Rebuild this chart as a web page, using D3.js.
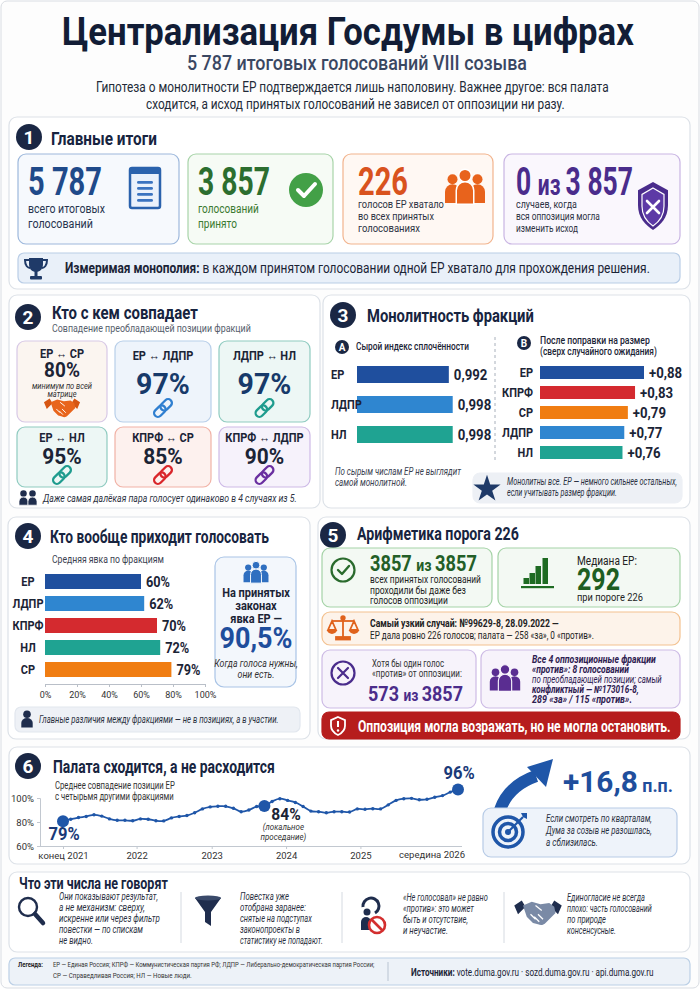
<!DOCTYPE html>
<html>
<head>
<meta charset="utf-8">
<script src="https://cdn.jsdelivr.net/npm/d3@7"></script>
<style>
  body { margin: 0; background: #fff; }
  svg { display: block; }
</style>
</head>
<body>
<svg id="chart" width="700" height="989"></svg>
<script>
// ---- данные ----
const pairLabels = ["ЕР ↔ СР", "ЕР ↔ ЛДПР", "ЛДПР ↔ НЛ", "ЕР ↔ НЛ", "КПРФ ↔ СР", "КПРФ ↔ ЛДПР"];
const pairValues = [80, 97, 97, 95, 85, 90];

const rawParties = ["ЕР", "ЛДПР", "НЛ"];
const rawIndex = [0.992, 0.998, 0.998];

const adjParties = ["ЕР", "КПРФ", "СР", "ЛДПР", "НЛ"];
const adjIndex = [0.88, 0.83, 0.79, 0.77, 0.76];

const turnoutParties = ["ЕР", "ЛДПР", "КПРФ", "НЛ", "СР"];
const turnoutValues = [60, 62, 70, 72, 79];
const turnoutTicks = [0, 20, 40, 60, 80, 100];

// среднее совпадение позиции ЕР, по периодам
const trendValues = [80.6, 82.3, 83.7, 84.6, 86.0, 84.9, 82.6, 81.4, 81.4, 81.1, 82.6, 82.3, 81.1,
  80.9, 83.4, 84.6, 85.4, 87.7, 90.9, 92.6, 93.1, 93.1, 91.4, 88.6, 90.0, 92.9, 93.4, 97.1, 99.4,
  98.0, 96.3, 92.9, 89.1, 88.6, 87.7, 88.6, 88.6, 88.3, 90.9, 90.6, 91.1, 90.9, 94.3, 98.0, 99.4,
  99.7, 98.6, 98.9, 100.6, 102.0, 104.9, 107.1];
const trendTickPos = [0, 9.5, 19.2, 28.8, 38.4];
const trendTickLabels = ["конец 2021", "2022", "2023", "2024", "2025"];
const trendYTicks = [60, 80, 100];
const trendMarks = [0, 26, 51];
const trendMarkLabels = ["79%", "84%", "96%"];

const partyColor = { "ЕР": "#1f4f9e", "ЛДПР": "#2f86d0", "НЛ": "#1fa392", "КПРФ": "#d42a2f", "СР": "#f07d12" };

// ---- помощники ----
const FONT = "Roboto, 'Noto Sans', sans-serif";
const NAVY = "#172440";
const svg = d3.select("#chart");

// текст; w — ширина из образца, под неё текст сжимается по горизонтали
function T(g, x, y, parts, o = {}) {
  const t = g.append("text")
    .attr("font-family", FONT)
    .attr("font-size", o.size || 12)
    .attr("font-weight", o.weight || 400)
    .attr("fill", o.fill || "#1b2436")
    .attr("text-anchor", o.anchor || "start");
  if (o.italic) t.attr("font-style", "italic");
  if (typeof parts === "string") parts = [{ s: parts }];
  parts.forEach(p => {
    const ts = t.append("tspan").text(p.s);
    if (p.size) ts.attr("font-size", p.size);
    if (p.weight) ts.attr("font-weight", p.weight);
    if (p.fill) ts.attr("fill", p.fill);
  });
  let sx = o.sx || 0.88;
  if (o.w) {
    const len = t.node().getComputedTextLength();
    if (len > 0) sx = o.w / len;
  }
  t.attr("transform", `translate(${x},${y}) scale(${sx},1)`);
  return t;
}

function box(g, x, y, w, h, fill, stroke, rx = 8) {
  return g.append("rect").attr("x", x).attr("y", y).attr("width", w).attr("height", h)
    .attr("rx", rx).attr("fill", fill).attr("stroke", stroke).attr("stroke-width", 1.2);
}

function badge(g, cx, cy, n) {
  g.append("circle").attr("cx", cx).attr("cy", cy).attr("r", 13).attr("fill", "#1a2744");
  T(g, cx, cy + 6.5, String(n), { size: 19, weight: 700, fill: "#fff", anchor: "middle", sx: 1 });
}

function band(domain, first, step, bw) {
  const p = (step - bw) / step;
  const r0 = first - (step - bw) / 2;
  return d3.scaleBand().domain(domain).range([r0, r0 + step * domain.length])
    .paddingInner(p).paddingOuter(p / 2);
}

function people3(g, cx, cy, color, s, outline = "#fff") {
  const p = g.append("g").attr("transform", `translate(${cx},${cy}) scale(${s})`).attr("fill", color);
  [-1, 1].forEach(k => {
    p.append("circle").attr("cx", k * 10).attr("cy", -7).attr("r", 4);
    p.append("path").attr("d", `M${k * 10 - 6},12 V3 a6,6 0 0 1 12,0 V12 Z`);
  });
  p.append("circle").attr("cx", 0).attr("cy", -10).attr("r", 5).attr("stroke", outline).attr("stroke-width", 1.2);
  p.append("path").attr("d", "M-7,13 V2 a7,7 0 0 1 14,0 V13 Z").attr("stroke", outline).attr("stroke-width", 1.2);
}

function people2(g, cx, cy, color, s) {
  const p = g.append("g").attr("transform", `translate(${cx},${cy}) scale(${s})`).attr("fill", color);
  [-5, 5].forEach(dx => {
    p.append("circle").attr("cx", dx).attr("cy", -5).attr("r", 3.6);
    p.append("path").attr("d", `M${dx - 5},8 V4 a5,5 0 0 1 10,0 V8 Z`).attr("stroke", "#fff").attr("stroke-width", 0.8);
  });
}

function person(g, cx, cy, color, s) {
  const p = g.append("g").attr("transform", `translate(${cx},${cy}) scale(${s})`).attr("fill", color);
  p.append("circle").attr("cx", 0).attr("cy", -5).attr("r", 4);
  p.append("path").attr("d", "M-6,9 V4 a6,5 0 0 1 12,0 V9 Z");
}

function link(g, cx, cy, color) {
  const p = g.append("g").attr("transform", `translate(${cx},${cy}) rotate(-45)`)
    .attr("fill", "none").attr("stroke", color).attr("stroke-width", 2.3);
  p.append("rect").attr("x", -11).attr("y", -3.8).attr("width", 13).attr("height", 7.6).attr("rx", 3.8);
  p.append("rect").attr("x", -2).attr("y", -3.8).attr("width", 13).attr("height", 7.6).attr("rx", 3.8);
}

function handshake(g, cx, cy, color, s, dark) {
  const p = g.append("g").attr("transform", `translate(${cx},${cy}) scale(${s})`);
  p.append("path").attr("fill", dark || color)
    .attr("d", "M-19,-6 L-13,-10 L-10,-5 L-16,1 Z M19,-6 L13,-10 L10,-5 L16,1 Z");
  p.append("path").attr("fill", color)
    .attr("d", "M-12,-6 L-5,-9 L2,-7 L9,-8 L13,-5 L14,0 L6,8 C4,10 2,10 0,9 L-4,8 L-9,3 Z");
  p.append("path").attr("fill", "none").attr("stroke", "#fff").attr("stroke-width", 1)
    .attr("d", "M-2,-6 L3,-2 M0,1 L4,5 M-3,3 L1,7 M-6,1 L-2,5");
}

function shieldPath(w, h) {
  return `M0,${-h / 2} L${w / 2},${-h / 2 + h * 0.17} L${w / 2},${-h * 0.02} C${w / 2},${h * 0.25} ${w * 0.25},${h * 0.4} 0,${h / 2}` +
    ` C${-w * 0.25},${h * 0.4} ${-w / 2},${h * 0.25} ${-w / 2},${-h * 0.02} L${-w / 2},${-h / 2 + h * 0.17} Z`;
}

// ---- фон и шапка ----
svg.append("rect").attr("x", 1).attr("y", 1).attr("width", 698).attr("height", 987).attr("rx", 6)
  .attr("fill", "#fdfdfd").attr("stroke", "#d9dde3");

T(svg, 62, 45, "Централизация Госдумы в цифрах", { size: 38, weight: 700, fill: "#121d36", w: 572 });
T(svg, 187, 70, "5 787 итоговых голосований VIII созыва", { size: 21, weight: 500, fill: "#3a4762", w: 340 });
T(svg, 96, 92, "Гипотеза о монолитности ЕР подтверждается лишь наполовину. Важнее другое: вся палата",
  { size: 14, fill: "#222a38", w: 513 });
T(svg, 146, 109, "сходится, а исход принятых голосований не зависел от оппозиции ни разу.",
  { size: 14, fill: "#222a38", w: 419 });

// ---- 1. Главные итоги ----
const s1 = svg.append("g");
box(s1, 9, 117, 681, 172, "#fff", "#dde2e8");
badge(s1, 29, 137, 1);
T(s1, 51, 145, "Главные итоги", { size: 18, weight: 700, fill: NAVY, w: 106 });

box(s1, 18, 154, 161, 90, "#f6f9fd", "#9db8dc");
box(s1, 188, 154, 145, 90, "#f6fbf5", "#a8d4a9");
box(s1, 343, 154, 150, 90, "#fff8f3", "#f2b48e");
box(s1, 504, 154, 176, 90, "#faf7fd", "#c9b5e3");

T(s1, 28, 195, "5 787", { size: 38, weight: 700, fill: "#1f4a8a", w: 74 });
T(s1, 28, 213, "всего итоговых", { size: 13, fill: "#27344f", w: 77 });
T(s1, 28, 228, "голосований", { size: 13, fill: "#27344f", w: 65 });
// документ
(function () {
  const x = 130, y = 168;
  s1.append("rect").attr("x", x).attr("y", y).attr("width", 30).attr("height", 40).attr("rx", 2)
    .attr("fill", "#eaf1fb").attr("stroke", "#2a62ad").attr("stroke-width", 2.5);
  s1.append("rect").attr("x", x).attr("y", y).attr("width", 30).attr("height", 6).attr("fill", "#2a62ad");
  [13, 19, 25, 31].forEach(d => s1.append("rect").attr("x", x + 7).attr("y", y + d)
    .attr("width", 16).attr("height", 2.8).attr("rx", 1.4).attr("fill", "#3a73c0"));
})();

T(s1, 198, 195, "3 857", { size: 38, weight: 700, fill: "#2c6e2f", w: 72 });
T(s1, 198, 213, "голосований", { size: 13, fill: "#3b7a30", w: 61 });
T(s1, 198, 228, "принято", { size: 13, fill: "#3b7a30", w: 39 });
s1.append("circle").attr("cx", 306).attr("cy", 190).attr("r", 17).attr("fill", "#43a047");
s1.append("path").attr("d", "M298,190 L304,196 L315,184").attr("fill", "none")
  .attr("stroke", "#fff").attr("stroke-width", 4).attr("stroke-linecap", "round").attr("stroke-linejoin", "round");

T(s1, 358, 195, "226", { size: 38, weight: 700, fill: "#d9531e", w: 50 });
T(s1, 358, 208, "голосов ЕР хватало", { size: 11.5, fill: "#2b3142", w: 86 });
T(s1, 358, 220, "во всех принятых", { size: 11.5, fill: "#2b3142", w: 76 });
T(s1, 358, 232, "голосованиях", { size: 11.5, fill: "#2b3142", w: 62 });
people3(s1, 465, 188, "#e8631c", 1.25);

T(s1, 516, 195, [{ s: "0 " }, { s: "из ", size: 30 }, { s: "3 857" }], { size: 38, weight: 700, fill: "#4a2c8c", w: 117 });
T(s1, 516, 208, "случаев, когда", { size: 11.5, fill: "#2b3142", w: 61 });
T(s1, 516, 220, "вся оппозиция могла", { size: 11.5, fill: "#2b3142", w: 84 });
T(s1, 516, 232, "изменить исход", { size: 11.5, fill: "#2b3142", w: 62 });
s1.append("path").attr("transform", "translate(653,206)").attr("d", shieldPath(30, 48)).attr("fill", "#4a2c8c");
s1.append("path").attr("transform", "translate(653,207)").attr("d", shieldPath(22, 38))
  .attr("fill", "#5d3aa6").attr("stroke", "#fff").attr("stroke-width", 1.2);
s1.append("path").attr("d", "M647,201 L659,213 M659,201 L647,213").attr("stroke", "#fff")
  .attr("stroke-width", 2.6).attr("stroke-linecap", "round");

box(s1, 18, 253, 662, 30, "#e9f0f9", "#b9cde6", 6);
// кубок
(function () {
  const p = s1.append("g").attr("transform", "translate(36,267)").attr("fill", "#1f3a68");
  p.append("path").attr("d", "M-7,-9 H7 V-3 C7,3 3,5 0,5 C-3,5 -7,3 -7,-3 Z");
  p.append("path").attr("d", "M-7,-7 H-11 C-11,-1 -8,1 -6,1 M7,-7 H11 C11,-1 8,1 6,1")
    .attr("fill", "none").attr("stroke", "#1f3a68").attr("stroke-width", 2);
  p.append("rect").attr("x", -1.5).attr("y", 5).attr("width", 3).attr("height", 4);
  p.append("rect").attr("x", -6).attr("y", 9).attr("width", 12).attr("height", 3.5).attr("rx", 1);
})();
T(s1, 65, 273, [{ s: "Измеримая монополия:", weight: 700 }, { s: " в каждом принятом голосовании одной ЕР хватало для прохождения решения." }],
  { size: 14.5, fill: "#1b2436", w: 585 });

// ---- 2. Кто с кем совпадает ----
const s2 = svg.append("g");
box(s2, 9, 295, 311, 213, "#fff", "#dde2e8");
badge(s2, 28, 317, 2);
T(s2, 52, 319, "Кто с кем совпадает", { size: 19, weight: 700, fill: NAVY, w: 146 });
T(s2, 52, 332, "Совпадение преобладающей позиции фракций", { size: 10.5, fill: "#565e6c", w: 199 });

const tileBox = [[17, 341, 90, 81], [115, 341, 96, 81], [219, 341, 91, 81],
  [17, 427, 90, 60], [115, 427, 96, 60], [219, 427, 91, 60]];
const tileFill = ["#fbf5f0", "#eef4fb", "#edf7f5", "#edf7f5", "#fdf1ee", "#f6f2fb"];
const tileStroke = ["#d8c9e6", "#b8cfe9", "#8fcbc0", "#8fcbc0", "#f1b2a6", "#cdb9e6"];
const tileIcon = ["#e8651c", "#2f7fd0", "#1f9c8e", "#1f9c8e", "#d9262b", "#6a2fa0"];

pairLabels.forEach((lab, i) => {
  const [x, y, w, h] = tileBox[i];
  const cx = x + w / 2;
  box(s2, x, y, w, h, tileFill[i], tileStroke[i], 8);
  if (i === 0) {
    T(s2, cx, y + 17, lab, { size: 12.5, weight: 700, anchor: "middle", fill: "#1b2436" });
    T(s2, cx, y + 36, pairValues[i] + "%", { size: 20, weight: 700, anchor: "middle", fill: "#1b2436", sx: 0.95 });
    T(s2, cx, y + 48, "минимум по всей", { size: 8.5, italic: true, anchor: "middle", fill: "#333" });
    T(s2, cx, y + 56, "матрице", { size: 8.5, italic: true, anchor: "middle", fill: "#333" });
    handshake(s2, cx, y + 67, tileIcon[i], 0.95, "#d65613");
  } else if (i < 3) {
    T(s2, cx, y + 19, lab, { size: 12.5, weight: 700, anchor: "middle", fill: "#1b2436" });
    T(s2, cx, y + 53, pairValues[i] + "%", { size: 30, weight: 700, anchor: "middle", fill: "#173a6a", sx: 0.95 });
    link(s2, cx, y + 67, tileIcon[i]);
  } else {
    T(s2, cx, y + 15, lab, { size: 12.5, weight: 700, anchor: "middle", fill: "#1b2436" });
    T(s2, cx, y + 37, pairValues[i] + "%", { size: 22, weight: 700, anchor: "middle", fill: "#1b2436", sx: 0.95 });
    link(s2, cx, y + 48, tileIcon[i]);
  }
});
people2(s2, 28, 498, "#1f2d4d", 0.9);
T(s2, 43, 502, "Даже самая далёкая пара голосует одинаково в 4 случаях из 5.", { size: 11.5, italic: true, fill: "#2b3142", w: 254 });

// ---- 3. Монолитность фракций ----
const s3 = svg.append("g");
box(s3, 323, 295, 367, 213, "#fff", "#dde2e8");
badge(s3, 343, 315, 3);
T(s3, 367, 322, "Монолитность фракций", { size: 19, weight: 700, fill: NAVY, w: 167 });

function letterBadge(g, cx, cy, l) {
  g.append("circle").attr("cx", cx).attr("cy", cy).attr("r", 7).attr("fill", "#1a2744");
  T(g, cx, cy + 3.5, l, { size: 10, weight: 700, fill: "#fff", anchor: "middle", sx: 1 });
}
letterBadge(s3, 342, 347, "A");
T(s3, 356, 350, "Сырой индекс сплочённости", { size: 11.5, weight: 500, fill: "#1b2436", w: 113 });
letterBadge(s3, 524, 343, "B");
T(s3, 540, 344, "После поправки на размер", { size: 11.5, weight: 500, fill: "#1b2436", w: 110 });
T(s3, 540, 355, "(сверх случайного ожидания)", { size: 11.5, weight: 500, fill: "#1b2436", w: 117 });

s3.append("line").attr("x1", 495).attr("x2", 495).attr("y1", 337).attr("y2", 462)
  .attr("stroke", "#a8b0bb").attr("stroke-dasharray", "3,3");

const rawY = band(rawParties, 366, 30, 17);
const rawX = d3.scaleLinear().domain([0.85, 1]).range([357, 454]);
s3.append("g").selectAll("rect").data(rawParties).join("rect")
  .attr("x", rawX(0.85)).attr("y", d => rawY(d)).attr("height", rawY.bandwidth())
  .attr("width", (d, i) => rawX(rawIndex[i]) - rawX(0.85)).attr("fill", d => partyColor[d]);
rawParties.forEach((d, i) => {
  const cy = rawY(d) + rawY.bandwidth() / 2;
  T(s3, 331, cy + 4.5, d, { size: 12.5, weight: 700 });
  T(s3, rawX(rawIndex[i]) + 5, cy + 5, d3.format(".3f")(rawIndex[i]).replace(".", ","), { size: 15, weight: 700 });
});

const adjY = band(adjParties, 366, 20, 13);
const adjX = d3.scaleLinear().domain([0.3, 0.88]).range([540, 644]);
s3.append("g").selectAll("rect").data(adjParties).join("rect")
  .attr("x", adjX(0.3)).attr("y", d => adjY(d)).attr("height", adjY.bandwidth())
  .attr("width", (d, i) => adjX(adjIndex[i]) - adjX(0.3)).attr("fill", d => partyColor[d]);
adjParties.forEach((d, i) => {
  const cy = adjY(d) + adjY.bandwidth() / 2;
  T(s3, 533, cy + 4.5, d, { size: 12.5, weight: 700, anchor: "end" });
  T(s3, adjX(adjIndex[i]) + 5, cy + 5, "+" + d3.format(".2f")(adjIndex[i]).replace(".", ","), { size: 15, weight: 700 });
});

T(s3, 335, 475, "По сырым числам ЕР не выглядит", { size: 10.5, italic: true, fill: "#3a4150", w: 126 });
T(s3, 335, 486, "самой монолитной.", { size: 10.5, italic: true, fill: "#3a4150", w: 72 });
box(s3, 473, 473, 209, 30, "#edf0f5", "#edf0f5", 7);
s3.append("path").attr("d", d3.symbol(d3.symbolStar, 230)()).attr("transform", "translate(487,489)").attr("fill", "#1f3a68");
T(s3, 507, 485, "Монолитны все. ЕР — немного сильнее остальных,", { size: 10, italic: true, fill: "#2b3142", w: 170 });
T(s3, 507, 496, "если учитывать размер фракции.", { size: 10, italic: true, fill: "#2b3142", w: 110 });

// ---- 4. Кто вообще приходит голосовать ----
const s4 = svg.append("g");
box(s4, 8, 517, 302, 222, "#fff", "#dde2e8");
badge(s4, 28, 536, 4);
T(s4, 50, 543, "Кто вообще приходит голосовать", { size: 19, weight: 700, fill: NAVY, w: 219 });
T(s4, 52, 563, "Средняя явка по фракциям", { size: 11.5, fill: "#3a4150", w: 112 });

const tY = band(turnoutParties, 574, 22, 15);
const tX = d3.scaleLinear().domain([0, 100]).range([45, 205]);
s4.append("g").selectAll("rect").data(turnoutParties).join("rect")
  .attr("x", tX(0)).attr("y", d => tY(d)).attr("height", tY.bandwidth())
  .attr("width", (d, i) => tX(turnoutValues[i]) - tX(0)).attr("fill", d => partyColor[d]);
turnoutParties.forEach((d, i) => {
  const cy = tY(d) + tY.bandwidth() / 2;
  T(s4, 28, cy + 4.5, d, { size: 12.5, weight: 700, anchor: "middle" });
  T(s4, tX(turnoutValues[i]) + 5, cy + 5, turnoutValues[i] + "%", { size: 14.5, weight: 700 });
});
const tAxis = s4.append("g").attr("transform", "translate(0,684)")
  .call(d3.axisBottom(tX).tickValues(turnoutTicks).tickFormat(d => d + "%").tickSize(3));
tAxis.select(".domain").attr("stroke", "#b9bfc8");
tAxis.selectAll(".tick line").attr("stroke", "#b9bfc8");
tAxis.selectAll("text").attr("font-family", FONT).attr("font-size", 9).attr("fill", "#333").attr("dy", "0.9em");

box(s4, 215, 557, 81, 130, "#f3f7fc", "#a9c4e6", 9);
people3(s4, 256, 573, "#2f6fc0", 0.78);
T(s4, 256, 597, "На принятых", { size: 12.5, weight: 700, anchor: "middle" });
T(s4, 256, 610, "законах", { size: 12.5, weight: 700, anchor: "middle" });
T(s4, 256, 623, "явка ЕР —", { size: 12.5, weight: 700, anchor: "middle" });
T(s4, 256, 648, "90,5%", { size: 30, weight: 700, anchor: "middle", fill: "#1f4e9c", sx: 0.9 });
T(s4, 256, 667, "Когда голоса нужны,", { size: 10, italic: true, anchor: "middle", fill: "#333" });
T(s4, 256, 678, "они есть.", { size: 10, italic: true, anchor: "middle", fill: "#333" });

box(s4, 15, 707, 285, 25, "#eef1f6", "#e2e7ee", 6);
person(s4, 27, 719, "#1f2d4d", 0.95);
T(s4, 39, 723, "Главные различия между фракциями — не в позициях, а в участии.", { size: 11, italic: true, fill: "#2b3142", w: 240 });

// ---- 5. Арифметика порога 226 ----
const s5 = svg.append("g");
box(s5, 318, 517, 372, 222, "#fff", "#dde2e8");
badge(s5, 333, 535, 5);
T(s5, 357, 540, "Арифметика порога 226", { size: 19, weight: 700, fill: NAVY, w: 162 });

box(s5, 322, 548, 170, 59, "#f3f9f3", "#a5d3a7", 8);
s5.append("circle").attr("cx", 343).attr("cy", 570).attr("r", 11.5).attr("fill", "none").attr("stroke", "#2a6b2d").attr("stroke-width", 2.2);
s5.append("path").attr("d", "M338,570 L342,574 L349,566").attr("fill", "none").attr("stroke", "#2a6b2d")
  .attr("stroke-width", 2.4).attr("stroke-linecap", "round").attr("stroke-linejoin", "round");
T(s5, 370, 571, [{ s: "3857 " }, { s: "из ", size: 17 }, { s: "3857" }], { size: 22, weight: 700, fill: "#235f27", w: 107 });
T(s5, 370, 583, "всех принятых голосований", { size: 11, fill: "#222", w: 111 });
T(s5, 370, 594, "проходили бы даже без", { size: 11, fill: "#222", w: 96 });
T(s5, 370, 604, "голосов оппозиции", { size: 11, fill: "#222", w: 78 });

box(s5, 498, 548, 182, 59, "#f3f9f3", "#a5d3a7", 8);
[[526, 578], [532, 573], [538, 566], [545, 558]].forEach(([x, y]) =>
  s5.append("rect").attr("x", x - 2.5).attr("y", y).attr("width", 5.5).attr("height", 584 - y).attr("fill", "#1e6b22"));
s5.append("rect").attr("x", 521).attr("y", 586).attr("width", 33).attr("height", 2.2).attr("fill", "#1e6b22");
T(s5, 577, 565, "Медиана ЕР:", { size: 13.5, fill: "#222", w: 60 });
T(s5, 577, 590, "292", { size: 32, weight: 700, fill: "#1e5e22", w: 43 });
T(s5, 577, 601, "при пороге 226", { size: 11, fill: "#222", w: 66 });

box(s5, 322, 612, 358, 33, "#fdf3ea", "#f3c18f", 8);
(function () {
  const p = s5.append("g").attr("transform", "translate(343,628)").attr("stroke", "#e0621c").attr("fill", "none").attr("stroke-width", 1.8);
  p.append("line").attr("x1", 0).attr("x2", 0).attr("y1", -10).attr("y2", 9);
  p.append("line").attr("x1", -11).attr("x2", 11).attr("y1", -7).attr("y2", -7);
  p.append("path").attr("d", "M-11,-7 L-15,2 H-7 Z M11,-7 L7,2 H15 Z");
  p.append("path").attr("d", "M-15,2 A4,3 0 0 0 -7,2 M7,2 A4,3 0 0 0 15,2").attr("fill", "#e0621c");
  p.append("rect").attr("x", -7).attr("y", 9).attr("width", 14).attr("height", 2.5).attr("fill", "#e0621c");
  p.append("circle").attr("cx", 0).attr("cy", -10).attr("r", 1.8).attr("fill", "#e0621c");
})();
T(s5, 370, 627, "Самый узкий случай: №99629-8, 28.09.2022 —", { size: 11.5, weight: 700, fill: "#222", w: 189 });
T(s5, 370, 639, "ЕР дала ровно 226 голосов; палата — 258 «за», 0 «против».", { size: 11, fill: "#222", w: 224 });

box(s5, 322, 650, 154, 58, "#f7f3fb", "#cdbbe5", 8);
s5.append("circle").attr("cx", 343).attr("cy", 673).attr("r", 11.5).attr("fill", "none").attr("stroke", "#4a2c8c").attr("stroke-width", 2.2);
s5.append("path").attr("d", "M338,668 L348,678 M348,668 L338,678").attr("stroke", "#4a2c8c")
  .attr("stroke-width", 2.2).attr("stroke-linecap", "round");
T(s5, 372, 667, "Хотя бы один голос", { size: 10.5, fill: "#333", w: 72 });
T(s5, 372, 677, "«против» от оппозиции:", { size: 10.5, fill: "#333", w: 90 });
T(s5, 368, 701, [{ s: "573 " }, { s: "из ", size: 16 }, { s: "3857" }], { size: 21, weight: 700, fill: "#4b2c8a", w: 95 });

box(s5, 481, 650, 199, 58, "#f7f3fb", "#cdbbe5", 8);
people3(s5, 505, 679, "#5a2d91", 0.95, "#f7f3fb");
T(s5, 532, 663, "Все 4 оппозиционные фракции", { size: 10, weight: 700, italic: true, fill: "#2e2050", w: 124 });
T(s5, 532, 673, "«против»: 8 голосований", { size: 10, weight: 700, italic: true, fill: "#2e2050", w: 97 });
T(s5, 532, 683, "по преобладающей позиции; самый", { size: 10, italic: true, fill: "#2e2050", w: 130 });
T(s5, 532, 693, "конфликтный — №173016-8,", { size: 10, weight: 700, italic: true, fill: "#2e2050", w: 107 });
T(s5, 532, 703, "289 «за» / 115 «против».", { size: 10, weight: 700, italic: true, fill: "#2e2050", w: 100 });

box(s5, 322, 712, 358, 27, "#b61d1d", "#b61d1d", 7);
s5.append("path").attr("transform", "translate(338,726)").attr("d", shieldPath(14, 18))
  .attr("fill", "none").attr("stroke", "#fff").attr("stroke-width", 1.8);
s5.append("line").attr("x1", 338).attr("x2", 338).attr("y1", 721).attr("y2", 727).attr("stroke", "#fff").attr("stroke-width", 2);
s5.append("circle").attr("cx", 338).attr("cy", 730.5).attr("r", 1.2).attr("fill", "#fff");
T(s5, 358, 732, "Оппозиция могла возражать, но не могла остановить.", { size: 16, weight: 700, fill: "#fff", w: 313 });

// ---- 6. Палата сходится ----
const s6 = svg.append("g");
box(s6, 9, 747, 681, 117, "#fff", "#dde2e8");
badge(s6, 28, 766, 6);
T(s6, 53, 773, "Палата сходится, а не расходится", { size: 19, weight: 700, fill: NAVY, w: 222 });
T(s6, 55, 789, "Среднее совпадение позиции ЕР", { size: 11, fill: "#333", w: 120 });
T(s6, 55, 800, "с четырьмя другими фракциями", { size: 11, fill: "#333", w: 119 });

const trX = d3.scaleLinear().domain([0, trendValues.length - 1]).range([63, 458]);
const trY = d3.scaleLinear().domain([60, 100]).range([846, 798]);
const yAx = s6.append("g").attr("transform", "translate(40,0)")
  .call(d3.axisLeft(trY).tickValues(trendYTicks).tickFormat(d => d + "%").tickSize(3));
yAx.select(".domain").attr("stroke", "#c2c8d0");
yAx.selectAll(".tick line").attr("stroke", "#c2c8d0");
yAx.selectAll("text").attr("font-family", FONT).attr("font-size", 9.5).attr("fill", "#333");
const xAx = s6.append("g").attr("transform", "translate(0,846)")
  .call(d3.axisBottom(trX).tickValues(trendTickPos).tickFormat((d, i) => trendTickLabels[i]).tickSize(3));
xAx.select(".domain").attr("stroke", "#c2c8d0").attr("d", "M40,0.5H462");
xAx.selectAll(".tick line").attr("stroke", "#c2c8d0");
xAx.selectAll("text").attr("font-family", FONT).attr("font-size", 9.5).attr("fill", "#333");
T(s6, 465, 858, "середина 2026", { size: 9.5, anchor: "end", fill: "#333", sx: 1 });

s6.append("path").datum(trendValues)
  .attr("d", d3.line().x((d, i) => trX(i)).y(d => trY(d)).curve(d3.curveCatmullRom))
  .attr("fill", "none").attr("stroke", "#1f56a8").attr("stroke-width", 1.8);
s6.append("g").selectAll("circle").data(trendValues).join("circle")
  .attr("cx", (d, i) => trX(i)).attr("cy", d => trY(d)).attr("r", 1.7).attr("fill", "#1f56a8");
s6.append("g").selectAll("circle").data(trendMarks).join("circle")
  .attr("cx", i => trX(i)).attr("cy", i => trY(trendValues[i])).attr("r", 6).attr("fill", "#1f56a8");
T(s6, trX(trendMarks[0]) + 1, 840, trendMarkLabels[0], { size: 18, weight: 700, fill: "#1a3a78", anchor: "middle", sx: 0.92 });
T(s6, trX(trendMarks[1]) + 7, 820, trendMarkLabels[1], { size: 17, weight: 700, fill: "#1b2436", sx: 0.92 });
T(s6, trX(trendMarks[1]) + 19, 830, "(локальное", { size: 9, italic: true, anchor: "middle", fill: "#333" });
T(s6, trX(trendMarks[1]) + 19, 840, "проседание)", { size: 9, italic: true, anchor: "middle", fill: "#333" });
T(s6, trX(trendMarks[2]) + 1, 779, trendMarkLabels[2], { size: 18, weight: 700, fill: "#1a3a78", anchor: "middle", sx: 0.92 });

// стрелка вверх
s6.append("path").attr("d", "M500,810 Q508,786 536,776").attr("fill", "none")
  .attr("stroke", "#1f56a8").attr("stroke-width", 12);
s6.append("path").attr("d", "M553,759 L527,767 L546,787 Z").attr("fill", "#1f56a8");
T(s6, 563, 792, [{ s: "+16,8" }, { s: " п.п.", size: 18 }], { size: 30, weight: 700, fill: "#1f4e9c", w: 110 });

box(s6, 483, 808, 194, 49, "#eef3fa", "#b7cbe6", 8);
(function () {
  const p = s6.append("g").attr("transform", "translate(508,832)");
  p.append("circle").attr("r", 15).attr("fill", "none").attr("stroke", "#1f56a8").attr("stroke-width", 3.5);
  p.append("circle").attr("r", 8.5).attr("fill", "none").attr("stroke", "#1f56a8").attr("stroke-width", 3.5);
  p.append("circle").attr("r", 3).attr("fill", "#1f56a8");
  p.append("line").attr("x1", 0).attr("y1", 0).attr("x2", 15).attr("y2", -15).attr("stroke", "#1f56a8").attr("stroke-width", 2.2);
  p.append("path").attr("d", "M13,-19 L19,-19 L19,-13 L15,-15 Z").attr("fill", "#1f56a8");
})();
T(s6, 546, 822, "Если смотреть по кварталам,", { size: 10.5, italic: true, fill: "#2b3142", w: 106 });
T(s6, 546, 834, "Дума за созыв не разошлась,", { size: 10.5, italic: true, fill: "#2b3142", w: 106 });
T(s6, 546, 846, "а сблизилась.", { size: 10.5, italic: true, fill: "#2b3142", w: 52 });

// ---- 7. Что эти числа не говорят ----
const s7 = svg.append("g");
box(s7, 9, 872, 681, 80, "#fff", "#dde2e8");
T(s7, 19, 889, "Что эти числа не говорят", { size: 17, weight: 700, fill: NAVY, w: 149 });
[181, 342, 504].forEach(x => s7.append("line").attr("x1", x).attr("x2", x).attr("y1", 892).attr("y2", 943).attr("stroke", "#d5dae1"));

const notes = [
  { x: 59, lines: ["Они показывают результат,", "а не механизм: сверху,", "искренне или через фильтр", "повестки — по спискам", "не видно."], w: [99, 86, 101, 84, 34] },
  { x: 240, lines: ["Повестка уже", "отобрана заранее:", "снятые на подступах", "законопроекты в", "статистику не попадают."], w: [49, 66, 72, 60, 83] },
  { x: 403, lines: ["«Не голосовал» не равно", "«против»: это может", "быть и отсутствие,", "и неучастие."], w: [85, 71, 65, 45] },
  { x: 567, lines: ["Единогласие не всегда", "плохо: часть голосований", "по природе", "консенсусные."], w: [78, 85, 39, 49] }
];
notes.forEach(n => {
  const y0 = n.lines.length === 5 ? 900 : 901;
  n.lines.forEach((l, j) => T(s7, n.x, y0 + j * 11, l, { size: 10, italic: true, fill: "#2b3142", w: n.w[j] }));
});
// лупа
s7.append("circle").attr("cx", 28).attr("cy", 907).attr("r", 9).attr("fill", "none").attr("stroke", "#1f2d4d").attr("stroke-width", 2.4);
s7.append("line").attr("x1", 35).attr("y1", 914).attr("x2", 43).attr("y2", 923).attr("stroke", "#1f2d4d").attr("stroke-width", 4.5).attr("stroke-linecap", "round");
// воронка
s7.append("path").attr("d", "M195,898 H221 L211,912 V926 L205,922 V912 Z").attr("fill", "#1f2d4d");
s7.append("ellipse").attr("cx", 208).attr("cy", 898).attr("rx", 13).attr("ry", 2.5).attr("fill", "#3a4a6a");
// не голосовал
(function () {
  const p = s7.append("g").attr("transform", "translate(370,910)");
  p.append("path").attr("d", "M-7,-3 a8,8 0 1 1 12,6").attr("fill", "none").attr("stroke", "#1f2d4d").attr("stroke-width", 3);
  p.append("circle").attr("cx", -3).attr("cy", 2).attr("r", 3.5).attr("fill", "#1f2d4d");
  p.append("path").attr("d", "M-9,20 V12 a5,5 0 0 1 10,0 V20 Z").attr("fill", "#1f2d4d");
  p.append("circle").attr("cx", 7).attr("cy", 15).attr("r", 8).attr("fill", "#fff").attr("stroke", "#d32f2f").attr("stroke-width", 2.6);
  p.append("line").attr("x1", 1.5).attr("y1", 9.5).attr("x2", 12.5).attr("y2", 20.5).attr("stroke", "#d32f2f").attr("stroke-width", 2.6);
})();
handshake(s7, 538, 913, "#7a8aa6", 1.25, "#1f2d4d");

// ---- легенда ----
box(svg, 9, 958, 681, 27, "#edf2f8", "#bcd0e6", 6);
T(svg, 18, 967, "Легенда:", { size: 8, weight: 700, fill: "#222", w: 25 });
T(svg, 53, 967, "ЕР — Единая Россия; КПРФ — Коммунистическая партия РФ; ЛДПР — Либерально-демократическая партия России;",
  { size: 7.5, fill: "#333", w: 322 });
T(svg, 53, 978, "СР — Справедливая Россия; НЛ — Новые люди.", { size: 7.5, fill: "#333", w: 139 });
svg.append("line").attr("x1", 388).attr("x2", 388).attr("y1", 962).attr("y2", 981).attr("stroke", "#b9c4d2");
T(svg, 411, 976, [{ s: "Источники:", weight: 700 }, { s: "  vote.duma.gov.ru  ·  sozd.duma.gov.ru  ·  api.duma.gov.ru" }],
  { size: 11, fill: "#1b2436", w: 243 });
</script>
</body>
</html>
